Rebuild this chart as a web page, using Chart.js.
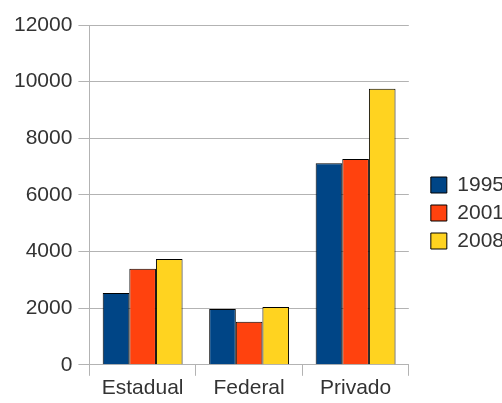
<!DOCTYPE html>
<html lang="pt">
<head>
  <meta charset="UTF-8" />
  <title>Estadual / Federal / Privado</title>
  <script src="https://cdn.jsdelivr.net/npm/chart.js"></script>
  <style>
    body { margin: 0; padding: 0; background: #fff; }
    canvas { display: block; }
  </style>
</head>
<body>
  <canvas id="chart" width="502" height="403"></canvas>

  <script>
    const categories = ['Estadual', 'Federal', 'Privado'];
    const seriesNames = ['1995', '2001', '2008'];
    const values1995 = [2540, 1970, 7115];
    const values2001 = [3390, 1520, 7270];
    const values2008 = [3740, 2040, 9745];
    const seriesColors = ['#004586', '#ff420e', '#ffd320'];

    const gridGray = '#b3b3b3';
    const textGray = '#333333';
    Chart.defaults.font.family = '"Liberation Sans", Arial, sans-serif';
    Chart.defaults.font.size = 21;
    Chart.defaults.color = textGray;

    const allValues = [values1995, values2001, values2008];

    new Chart(document.getElementById('chart'), {
      type: 'bar',
      data: {
        labels: categories,
        datasets: seriesNames.map((name, i) => ({
          label: name,
          data: allValues[i],
          backgroundColor: seriesColors[i],
          borderColor: '#000',
          borderWidth: 1,
          categoryPercentage: 0.75,
          barPercentage: 1
        }))
      },
      options: {
        responsive: false,
        animation: false,
        // legend is allowed to run past the right edge of the canvas
        layout: { padding: { top: 25, right: -5, left: 8, bottom: 2 } },
        plugins: {
          tooltip: { enabled: false },
          legend: {
            position: 'right',
            labels: {
              boxWidth: 16,
              boxHeight: 16,
              padding: 7,
              color: textGray
            }
          }
        },
        scales: {
          x: {
            offset: true,
            grid: {
              offset: true,
              drawOnChartArea: true,
              // only the outer edges show inside the plot; all show as ticks below
              color: ctx => (ctx.index === 0 || ctx.index === categories.length) ? gridGray : 'rgba(0,0,0,0)',
              tickColor: gridGray,
              tickLength: 11
            },
            border: { color: gridGray },
            ticks: { padding: 0 }
          },
          y: {
            min: 0,
            max: 12000,
            ticks: { stepSize: 2000, padding: 6, callback: v => String(v) },
            grid: { color: gridGray, tickLength: 11 },
            border: { color: gridGray }
          },
          // empty spacer between the plot and the legend
          gap: {
            type: 'linear',
            position: 'right',
            ticks: { display: false },
            grid: { display: false },
            border: { display: false },
            afterFit: s => { s.width = 15; }
          }
        }
      }
    });
  </script>
</body>
</html>
